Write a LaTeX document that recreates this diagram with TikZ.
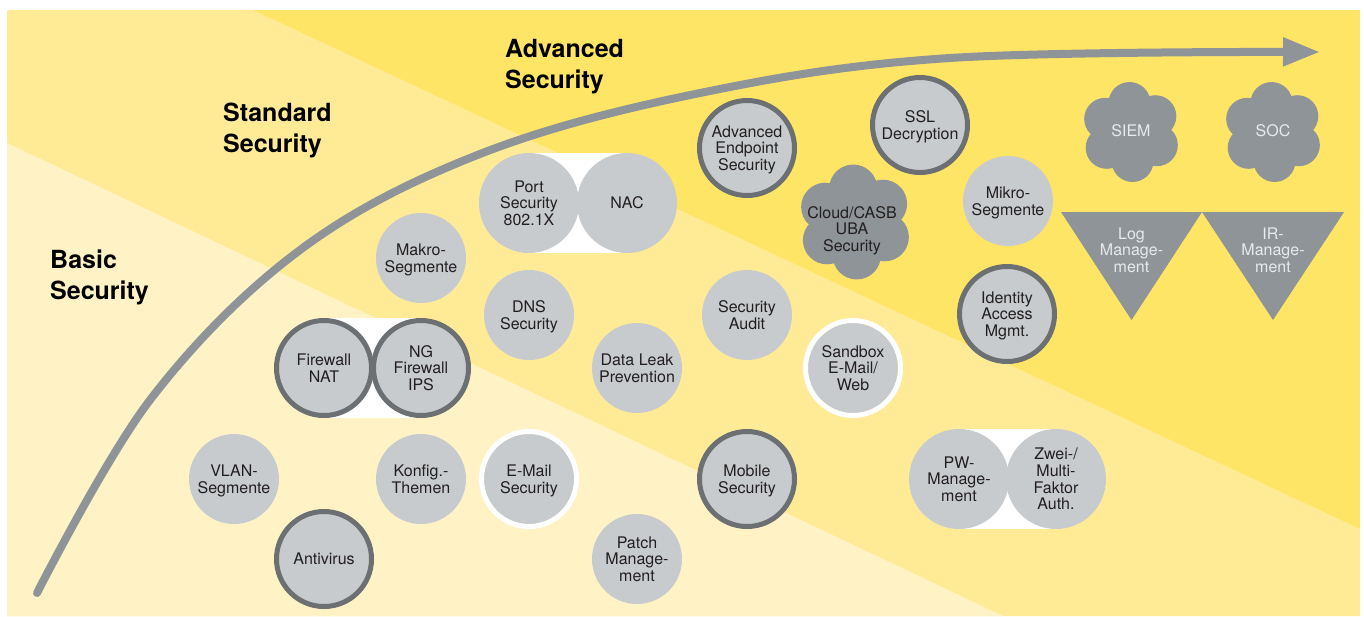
\documentclass[tikz,border=0pt]{standalone}
\usepackage{fontspec}
\setmainfont{TeX Gyre Heros}
\usetikzlibrary{arrows.meta}
\definecolor{ydark}{HTML}{FFE565}
\definecolor{ymid}{HTML}{FFEB96}
\definecolor{ylight}{HTML}{FFF3C6}
\definecolor{cfill}{HTML}{C7CBCD}
\definecolor{cring}{HTML}{6C7073}
\definecolor{cgray}{HTML}{8E9498}
\definecolor{ctext}{HTML}{231F20}
\definecolor{clight}{HTML}{E8EAEB}
\pgfdeclarelayer{bands}
\pgfdeclarelayer{pairs}
\pgfsetlayers{bands,pairs,main}
\newcommand\puffcloud[3]{%
  \fill[cgray] (#1,#2) circle[radius=#3*38pt];
  \foreach \a in {93,33,-27,-87,-147,153}
    \fill[cgray,shift={(#1,#2)}] (\a:#3*29pt) circle[radius=#3*21pt];
}
\begin{document}
\begin{tikzpicture}[x=1pt,y=-1pt,
  lbl/.style={font=\fontsize{16}{16.6}\selectfont, text=ctext, align=center, inner sep=0pt, text depth=0pt},
  plain/.style={lbl, circle, fill=cfill, minimum size=90pt},
  big/.style={lbl, circle, fill=cfill, minimum size=100pt},
  ringed/.style={lbl, circle, fill=cfill, draw=cring, line width=5pt, minimum size=95pt},
  whiteringed/.style={lbl, circle, fill=cfill, draw=white, line width=5pt, minimum size=95pt},
  lighttext/.style={lbl, text=clight},
  head/.style={font=\fontsize{25}{31}\selectfont\bfseries, text=black, align=left, inner sep=0pt, anchor=base west}
]
\useasboundingbox (0,0) rectangle (1364,616);
\begin{pgfonlayer}{bands}
  \fill[white] (0,0) rectangle (1364,616);
  \fill[ydark] (7,10) rectangle (1360,616);
  \fill[ymid] (7,10) -- (253,10) -- (1360,529) -- (1360,616) -- (7,616) -- cycle;
  \fill[ylight] (7,143) -- (1003,616) -- (7,616) -- cycle;
\end{pgfonlayer}

% headings (anchor = baseline of the last line)
\node[head] (basic) at (50,299) {Basic\\Security};
\node[head] (standard) at (223,152) {Standard\\Security};
\node[head] (advanced) at (505,88) {Advanced\\Security};

% growth arrow
\draw[cgray, line width=8pt, line cap=round, -{Triangle[length=37pt,width=27pt]}]
  plot[smooth, tension=0.6] coordinates {(37,593) (150,400) (300,250) (480,154) (700,93) (950,58) (1320,52)};

% clouds
\puffcloud{855}{222}{1.15}
\puffcloud{1131}{132}{1}
\puffcloud{1273}{132}{1}
\node[lbl] (casb) at (852,229) {Cloud/CASB\\UBA\\Security};
\node[lighttext] (siem) at (1131,131) {SIEM};
\node[lighttext] (soc) at (1273,131) {SOC};

% triangles
\fill[cgray] (1061,212) -- (1202,212) -- (1131.5,320) -- cycle;
\fill[cgray] (1202,212) -- (1344,212) -- (1273,320) -- cycle;
\node[lighttext] (logm) at (1131.5,250) {Log\\Manage-\\ment};
\node[lighttext] (irm) at (1273,250) {IR-\\Manage-\\ment};

% circles
\node[plain] (makro) at (421,258) {Makro-\\Segmente};
\node[big] (port) at (529,203) {Port\\Security\\802.1X};
\node[big] (nac) at (627,203) {NAC};
\node[ringed] (aes) at (747,148) {Advanced\\Endpoint\\Security};
\node[ringed] (ssl) at (920,125) {SSL\\Decryption};
\node[plain] (mikro) at (1008,201) {Mikro-\\Segmente};
\node[plain] (dns) at (529,315) {DNS\\Security};
\node[plain] (audit) at (747,315) {Security\\Audit};
\node[ringed] (iam) at (1007,314) {Identity\\Access\\Mgmt.};
\node[ringed] (fw) at (324,368) {Firewall\\NAT};
\node[ringed] (ngfw) at (421,368) {NG\\Firewall\\IPS};
\node[plain] (dlp) at (637,368) {Data Leak\\Prevention};
\node[whiteringed] (sandbox) at (853,368) {Sandbox\\E-Mail/\\Web};
\node[plain] (vlan) at (234,479) {VLAN-\\Segmente};
\node[plain] (konfig) at (421,479) {Konfig.-\\Themen};
\node[whiteringed] (email) at (529,479) {E-Mail\\Security};
\node[ringed] (mobile) at (747,479) {Mobile\\Security};
\node[big] (pw) at (959,479) {PW-\\Manage-\\ment};
\node[big] (mfa) at (1056,479) {Zwei-/\\Multi-\\Faktor\\Auth.};
\node[ringed] (av) at (324,559) {Antivirus};
\node[plain] (patch) at (637,559) {Patch\\Manage-\\ment};

% white bands behind paired circles
\begin{pgfonlayer}{pairs}
  \fill[white] (port.north) rectangle (nac.south);
  \fill[white] (fw.north) rectangle (ngfw.south);
  \fill[white] (pw.north) rectangle (mfa.south);
\end{pgfonlayer}
\end{tikzpicture}
\end{document}
